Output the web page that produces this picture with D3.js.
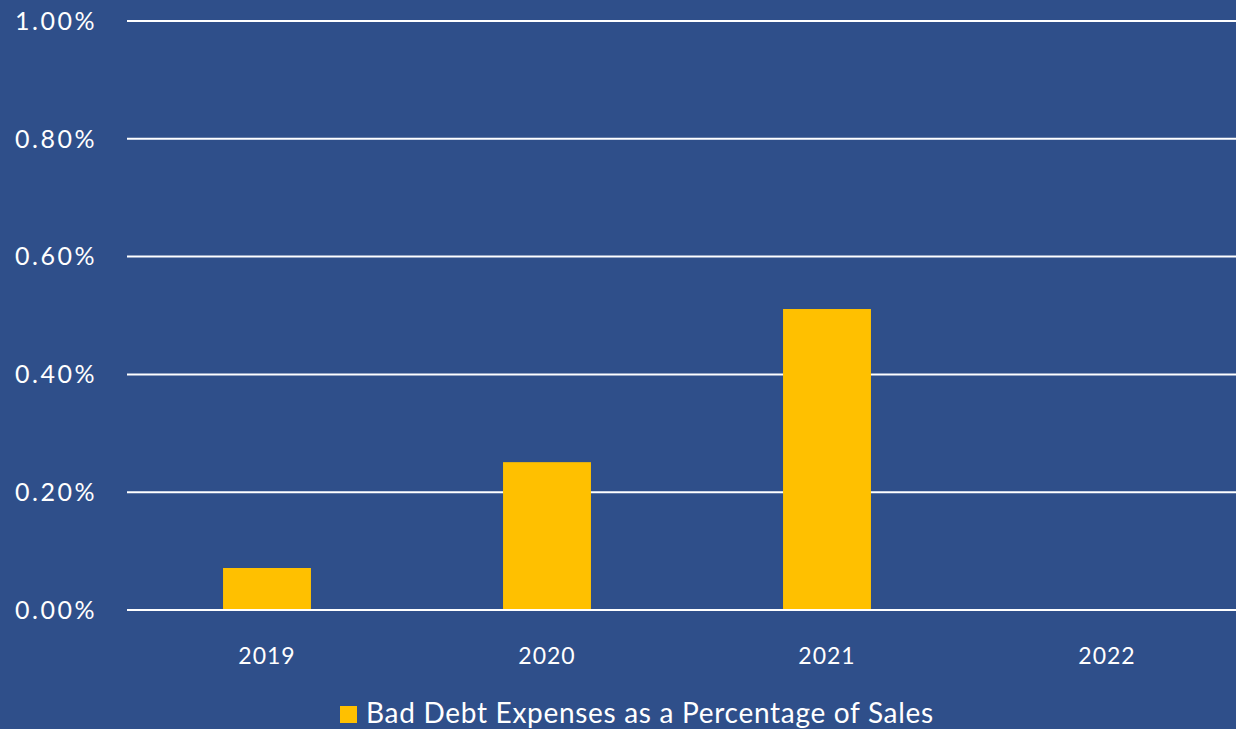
<!DOCTYPE html>
<html>
<head>
<meta charset="utf-8">
<script src="https://cdn.jsdelivr.net/npm/d3@7"></script>
<style>
  body { margin: 0; background: #2f4f8a; }
  svg text { font-family: Lato, "Open Sans", sans-serif; fill: #ffffff; }
</style>
</head>
<body>
<div id="chart"></div>
<script>
const years = ["2019", "2020", "2021", "2022"];
const badDebtPct = [0.0713, 0.251, 0.511, 0];
const yTicks = [0, 0.2, 0.4, 0.6, 0.8, 1.0];
const seriesName = "Bad Debt Expenses as a Percentage of Sales";

const width = 1236, height = 729;
const margin = {top: 21, right: 0, bottom: 119, left: 127};

const svg = d3.select("#chart").append("svg")
    .attr("width", width)
    .attr("height", height);

svg.append("rect")
    .attr("width", width)
    .attr("height", height)
    .attr("fill", "#2f4f8a");

// category step is a little wider than the visible plot
const x = d3.scaleBand()
    .domain(years)
    .range([margin.left, margin.left + 4 * 280])
    .paddingInner(0.686)
    .paddingOuter(0.343);

const y = d3.scaleLinear()
    .domain([0, 1.0])
    .range([height - margin.bottom, margin.top]);

// gridlines
svg.append("g")
  .selectAll("line")
  .data(yTicks)
  .enter().append("line")
    .attr("x1", margin.left)
    .attr("x2", width - margin.right)
    .attr("y1", d => y(d))
    .attr("y2", d => y(d))
    .style("stroke", "#ffffff")
    .style("stroke-width", 2);

// y labels
svg.append("g")
  .selectAll("text")
  .data(yTicks)
  .enter().append("text")
    .attr("x", 15)
    .attr("y", d => y(d))
    .attr("dy", "0.35em")
    .style("font-size", "25px")
    .style("letter-spacing", "2.5px")
    .text(d => d3.format(".2f")(d) + "%");

// bars
svg.append("g")
  .selectAll("rect")
  .data(years.map((yr, i) => ({year: yr, v: badDebtPct[i]})))
  .enter().append("rect")
    .attr("x", d => x(d.year))
    .attr("width", x.bandwidth())
    .attr("y", d => y(d.v))
    .attr("height", d => y(0) - y(d.v) - 1)
    .style("fill", "#ffc000");

// x labels
svg.append("g")
  .selectAll("text")
  .data(years)
  .enter().append("text")
    .attr("x", d => x(d) + x.bandwidth() / 2)
    .attr("y", 664)
    .attr("text-anchor", "middle")
    .style("font-size", "23px")
    .style("letter-spacing", "1px")
    .text(d => d);

// legend
const legend = svg.append("g");
legend.append("rect")
    .attr("x", 340)
    .attr("y", 706)
    .attr("width", 17)
    .attr("height", 17)
    .style("fill", "#ffc000");
legend.append("text")
    .attr("x", 366)
    .attr("y", 723)
    .style("font-size", "28px")
    .style("letter-spacing", "0.7px")
    .text(seriesName);
</script>
</body>
</html>
